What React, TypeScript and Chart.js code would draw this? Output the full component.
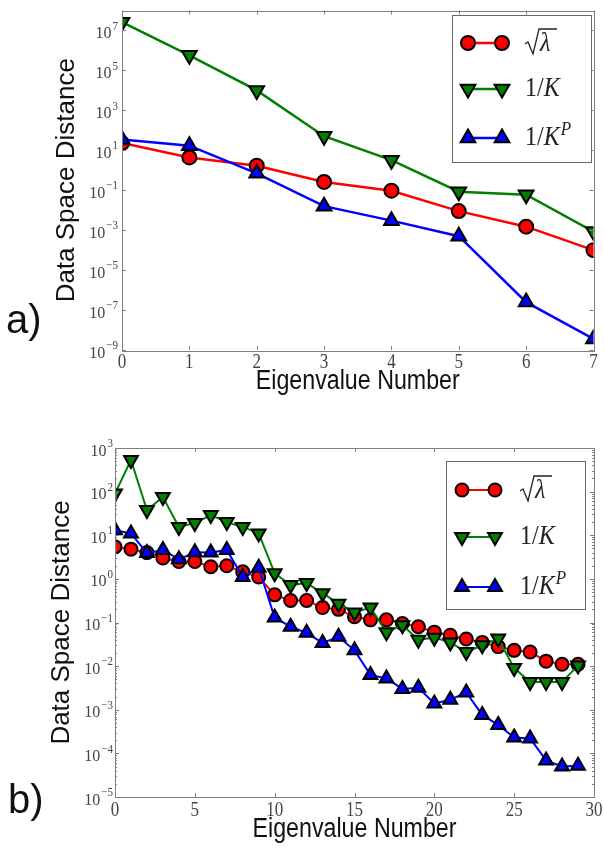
import React, { useEffect, useRef } from "react";
import { Chart, registerables } from "chart.js";
Chart.register(...registerables);

// ---------- DATA ----------
const eigA = [0, 1, 2, 3, 4, 5, 6, 7];
const sqrtLambdaA = [23, 4.4, 1.7, 0.26, 0.095, 0.009, 0.0015, 0.0001];
const invKA = [2.6e7, 5.7e5, 1e4, 51, 3.2, 0.085, 0.06, 0.00085];
const invKPA = [35, 17, 0.7, 0.016, 0.003, 0.0005, 2.5e-7, 3.6e-9];

const eigB = [0, 1, 2, 3, 4, 5, 6, 7, 8, 9, 10, 11, 12, 13, 14, 15, 16, 17, 18, 19, 20, 21, 22, 23, 24, 25, 26, 27, 28, 29];
const sqrtLambdaB = [5.4, 4.8, 4, 3, 2.5, 2.5, 1.9, 2.0, 1.45, 1.1, 0.43, 0.32, 0.32, 0.22, 0.2, 0.135, 0.115, 0.115, 0.095, 0.08, 0.06, 0.051, 0.042, 0.035, 0.028, 0.023, 0.021, 0.013, 0.011, 0.011];
const invKB = [90, 530, 38, 75, 15.5, 19, 29, 20, 15.5, 11, 1.35, 0.72, 0.8, 0.47, 0.27, 0.17, 0.22, 0.06, 0.087, 0.04, 0.045, 0.035, 0.021, 0.03, 0.043, 0.009, 0.0043, 0.0043, 0.0043, 0.0104];
const invKPB = [13, 11, 3.9, 4.6, 2.8, 4.1, 4.0, 4.6, 1.1, 1.8, 0.13, 0.08, 0.058, 0.034, 0.047, 0.023, 0.0063, 0.0052, 0.003, 0.0032, 0.0014, 0.0017, 0.0025, 7.6e-4, 4.5e-4, 2.3e-4, 2.2e-4, 6.9e-5, 5e-5, 5.2e-5];

const xTicksA = [0, 1, 2, 3, 4, 5, 6, 7];
const yExpTicksA = [-9, -7, -5, -3, -1, 1, 3, 5, 7];
const xTicksB = [0, 5, 10, 15, 20, 25, 30];
const yExpTicksB = [-5, -4, -3, -2, -1, 0, 1, 2, 3];

const seriesNames = ["sqrtLambda", "invK", "invKP"];
const xTitle = "Eigenvalue Number";
const yTitle = "Data Space Distance";

const RED = "#ff0000";
const GREEN = "#007f00";
const BLUE = "#0000ff";

// ---------- helpers ----------
function txt(ctx: CanvasRenderingContext2D, s: string, x: number, y: number, font: string, align: CanvasTextAlign, base: CanvasTextBaseline, color = "#000", sx = 1, sy = 1, rot = 0) {
  ctx.save();
  ctx.translate(x, y);
  if (rot) ctx.rotate(rot);
  ctx.scale(sx, sy);
  ctx.font = font;
  ctx.textAlign = align;
  ctx.textBaseline = base;
  ctx.fillStyle = color;
  ctx.fillText(s, 0, 0);
  ctx.restore();
}

function marker(ctx: CanvasRenderingContext2D, kind: string, x: number, y: number, r: number, fill: string) {
  ctx.save();
  ctx.beginPath();
  if (kind === "circle") {
    ctx.arc(x, y, r, 0, Math.PI * 2);
  } else {
    const down = kind === "down";
    const tr = r + 1.5;
    for (let i = 0; i < 3; i++) {
      const a = (down ? Math.PI : 0) + (i * 2 * Math.PI) / 3;
      const px = x + Math.sin(a) * tr;
      const py = y - Math.cos(a) * tr;
      if (i === 0) ctx.moveTo(px, py);
      else ctx.lineTo(px, py);
    }
    ctx.closePath();
  }
  ctx.fillStyle = fill;
  ctx.fill();
  ctx.lineWidth = 2;
  ctx.strokeStyle = "#000";
  ctx.lineJoin = "miter";
  ctx.stroke();
  ctx.restore();
}

interface PanelCfg {
  height: number;
  xs: number[];
  red: number[];
  green: number[];
  blue: number[];
  xMax: number;
  yMinExp: number;
  yMaxExp: number;
  xTicks: number[];
  yExps: number[];
  minorTicks: boolean;
  padding: { left: number; top: number; right: number; bottom: number };
  tickRight: number;
  xLabelY: number;
  xTitleY: number;
  yTitleX: number;
  panel: string;
  panelX: number;
  panelY: number;
  legend: { x: number; y: number; w: number; h: number; rows: number[]; m1: number; m2: number; tx: number };
  circleR: number;
  triR: number;
  lineW: number;
}

const panelA: PanelCfg = {
  height: 400,
  xs: eigA,
  red: sqrtLambdaA,
  green: invKA,
  blue: invKPA,
  xMax: 7,
  yMinExp: -9,
  yMaxExp: 8,
  xTicks: xTicksA,
  yExps: yExpTicksA,
  minorTicks: false,
  padding: { left: 122, top: 2, right: 4, bottom: 50 },
  tickRight: 118,
  xLabelY: 362,
  xTitleY: 382,
  yTitleX: 67,
  panel: "a)",
  panelX: 6,
  panelY: 333,
  legend: { x: 452, y: 15, w: 139, h: 147, rows: [43, 89, 138], m1: 468, m2: 502, tx: 525 },
  circleR: 7,
  triR: 7,
  lineW: 2.5,
};

const panelB: PanelCfg = {
  height: 450,
  xs: eigB,
  red: sqrtLambdaB,
  green: invKB,
  blue: invKPB,
  xMax: 30,
  yMinExp: -5,
  yMaxExp: 3,
  xTicks: xTicksB,
  yExps: yExpTicksB,
  minorTicks: true,
  padding: { left: 115, top: 48, right: 7, bottom: 53 },
  tickRight: 113,
  xLabelY: 410,
  xTitleY: 430,
  yTitleX: 62,
  panel: "b)",
  panelX: 8,
  panelY: 413,
  legend: { x: 446, y: 61, w: 139, h: 148, rows: [90, 137, 187], m1: 462, m2: 495, tx: 520 },
  circleR: 6.5,
  triR: 6.5,
  lineW: 2,
};

function makePlugin(p: PanelCfg) {
  return {
    id: "decor" + p.panel,
    afterDatasetsDraw(chart: any) {
      const ctx: CanvasRenderingContext2D = chart.ctx;
      const a = chart.chartArea;
      const xs = chart.scales.x;
      const ys = chart.scales.y;
      ctx.save();
      // frame
      ctx.strokeStyle = "#808080";
      ctx.lineWidth = 1;
      ctx.strokeRect(Math.round(a.left) + 0.5, Math.round(a.top) + 0.5, Math.round(a.right - a.left), Math.round(a.bottom - a.top));
      // x ticks
      ctx.beginPath();
      for (const t of p.xTicks) {
        const x = Math.round(xs.getPixelForValue(t)) + 0.5;
        ctx.moveTo(x, a.bottom);
        ctx.lineTo(x, a.bottom - 4);
        ctx.moveTo(x, a.top);
        ctx.lineTo(x, a.top + 4);
      }
      // y major ticks
      for (const e of p.yExps) {
        const y = Math.round(ys.getPixelForValue(Math.pow(10, e))) + 0.5;
        ctx.moveTo(a.left, y);
        ctx.lineTo(a.left + 4, y);
        ctx.moveTo(a.right, y);
        ctx.lineTo(a.right - 4, y);
      }
      if (p.minorTicks) {
        for (let e = p.yMinExp; e < p.yMaxExp; e++) {
          for (let m = 2; m <= 9; m++) {
            const y = Math.round(ys.getPixelForValue(m * Math.pow(10, e))) + 0.5;
            ctx.moveTo(a.left, y);
            ctx.lineTo(a.left + 2, y);
            ctx.moveTo(a.right, y);
            ctx.lineTo(a.right - 2, y);
          }
        }
      }
      ctx.stroke();
      ctx.restore();

      const labelColor = "#444";
      // x tick labels
      for (const t of p.xTicks) {
        const x = xs.getPixelForValue(t);
        txt(ctx, String(t), x, p.xLabelY, "17px 'Liberation Serif'", "center", "middle", labelColor, 1, 1.25);
      }
      // y tick labels 10^e
      for (const e of p.yExps) {
        const y = ys.getPixelForValue(Math.pow(10, e));
        const expStr = e < 0 ? "\u2212" + Math.abs(e) : String(e);
        ctx.save();
        ctx.font = "11px 'Liberation Serif'";
        const ew = ctx.measureText(expStr).width;
        ctx.restore();
        const baseRight = p.tickRight - ew - 1;
        txt(ctx, "10", baseRight, y + 3, "16px 'Liberation Serif'", "right", "middle", labelColor, 1, 1.1);
        txt(ctx, expStr, baseRight + 1, y - 4, "11px 'Liberation Serif'", "left", "middle", labelColor, 1, 1.1);
      }
      // titles
      const cx = (a.left + a.right) / 2;
      const cy = (a.top + a.bottom) / 2;
      txt(ctx, xTitle, cx, p.xTitleY, "27px 'Liberation Sans'", "center", "middle", "#111", 0.86, 1);
      txt(ctx, yTitle, p.yTitleX, cy, "26px 'Liberation Sans'", "center", "middle", "#111", 1, 1, -Math.PI / 2);
      txt(ctx, p.panel, p.panelX, p.panelY, "40px 'Liberation Sans'", "left", "alphabetic", "#111");

      // legend
      const L = p.legend;
      ctx.save();
      ctx.fillStyle = "#fff";
      ctx.fillRect(L.x, L.y, L.w, L.h);
      ctx.strokeStyle = "#666";
      ctx.lineWidth = 1;
      ctx.strokeRect(L.x + 0.5, L.y + 0.5, L.w, L.h);
      ctx.restore();
      const entries = [
        { color: RED, kind: "circle" },
        { color: GREEN, kind: "down" },
        { color: BLUE, kind: "up" },
      ];
      entries.forEach((en, i) => {
        const y = L.rows[i];
        ctx.save();
        ctx.strokeStyle = en.color;
        ctx.lineWidth = p.lineW;
        ctx.beginPath();
        ctx.moveTo(L.m1, y);
        ctx.lineTo(L.m2, y);
        ctx.stroke();
        ctx.restore();
        const r = en.kind === "circle" ? p.circleR : p.triR;
        marker(ctx, en.kind, L.m1, y, r, en.color);
        marker(ctx, en.kind, L.m2, y, r, en.color);
      });
      const f = "24px 'Liberation Serif'";
      const fi = "italic 24px 'Liberation Serif'";
      const tc = "#222";
      // sqrt(lambda)
      {
        const y = L.rows[0];
        const x0 = L.tx;
        ctx.save();
        ctx.strokeStyle = tc;
        ctx.fillStyle = tc;
        ctx.lineWidth = 1.3;
        ctx.beginPath();
        ctx.moveTo(x0, y + 1);
        ctx.lineTo(x0 + 3, y - 1);
        ctx.lineTo(x0 + 8, y + 11);
        ctx.lineTo(x0 + 14, y - 14);
        ctx.lineTo(x0 + 32, y - 14);
        ctx.stroke();
        ctx.restore();
        txt(ctx, "\u03bb", x0 + 15, y + 1, fi, "left", "middle", tc, 1, 1.1);
      }
      // 1/K
      {
        const y = L.rows[1];
        ctx.save();
        ctx.font = f;
        const w1 = ctx.measureText("1/").width;
        ctx.restore();
        txt(ctx, "1/", L.tx, y, f, "left", "middle", tc, 1, 1.15);
        txt(ctx, "K", L.tx + w1, y, fi, "left", "middle", tc, 1, 1.15);
      }
      // 1/K^P
      {
        const y = L.rows[2];
        ctx.save();
        ctx.font = f;
        const w1 = ctx.measureText("1/").width;
        ctx.font = fi;
        const w2 = ctx.measureText("K").width;
        ctx.restore();
        txt(ctx, "1/", L.tx, y, f, "left", "middle", tc, 1, 1.15);
        txt(ctx, "K", L.tx + w1, y, fi, "left", "middle", tc, 1, 1.15);
        txt(ctx, "P", L.tx + w1 + w2 + 1, y - 8, "italic 17px 'Liberation Serif'", "left", "middle", tc, 1, 1.15);
      }
    },
  };
}

function buildConfig(p: PanelCfg): any {
  const mk = (label: string, vals: number[], color: string, style: string, rot: number, r: number, order: number) => ({
    label,
    data: p.xs.map((x, i) => ({ x, y: vals[i] })),
    borderColor: color,
    borderWidth: p.lineW,
    pointBackgroundColor: color,
    pointBorderColor: "#000",
    pointBorderWidth: 2,
    pointRadius: r,
    pointStyle: style,
    pointRotation: rot,
    tension: 0,
    fill: false,
    order,
  });
  return {
    type: "line",
    data: {
      datasets: [
        mk(seriesNames[0], p.red, RED, "circle", 0, p.circleR, 3),
        mk(seriesNames[1], p.green, GREEN, "triangle", 180, p.triR + 1.5, 2),
        mk(seriesNames[2], p.blue, BLUE, "triangle", 0, p.triR + 1.5, 1),
      ],
    },
    options: {
      animation: false,
      responsive: false,
      devicePixelRatio: 1,
      events: [],
      layout: { padding: p.padding },
      plugins: { legend: { display: false }, tooltip: { enabled: false }, title: { display: false } },
      scales: {
        x: { type: "linear", min: 0, max: p.xMax, display: false },
        y: { type: "logarithmic", min: Math.pow(10, p.yMinExp), max: Math.pow(10, p.yMaxExp), display: false },
      },
    },
    plugins: [makePlugin(p)],
  };
}

function Panel({ cfg }: { cfg: PanelCfg }) {
  const ref = useRef<HTMLCanvasElement>(null);
  useEffect(() => {
    const chart = new Chart(ref.current as HTMLCanvasElement, buildConfig(cfg));
    return () => chart.destroy();
  }, [cfg]);
  return <canvas ref={ref} width={604} height={cfg.height} style={{ display: "block", width: 604, height: cfg.height }} />;
}

export default function App() {
  return (
    <div style={{ position: "absolute", left: 0, top: 0, width: 604, height: 850, background: "#fff" }}>
      <Panel cfg={panelA} />
      <Panel cfg={panelB} />
    </div>
  );
}
